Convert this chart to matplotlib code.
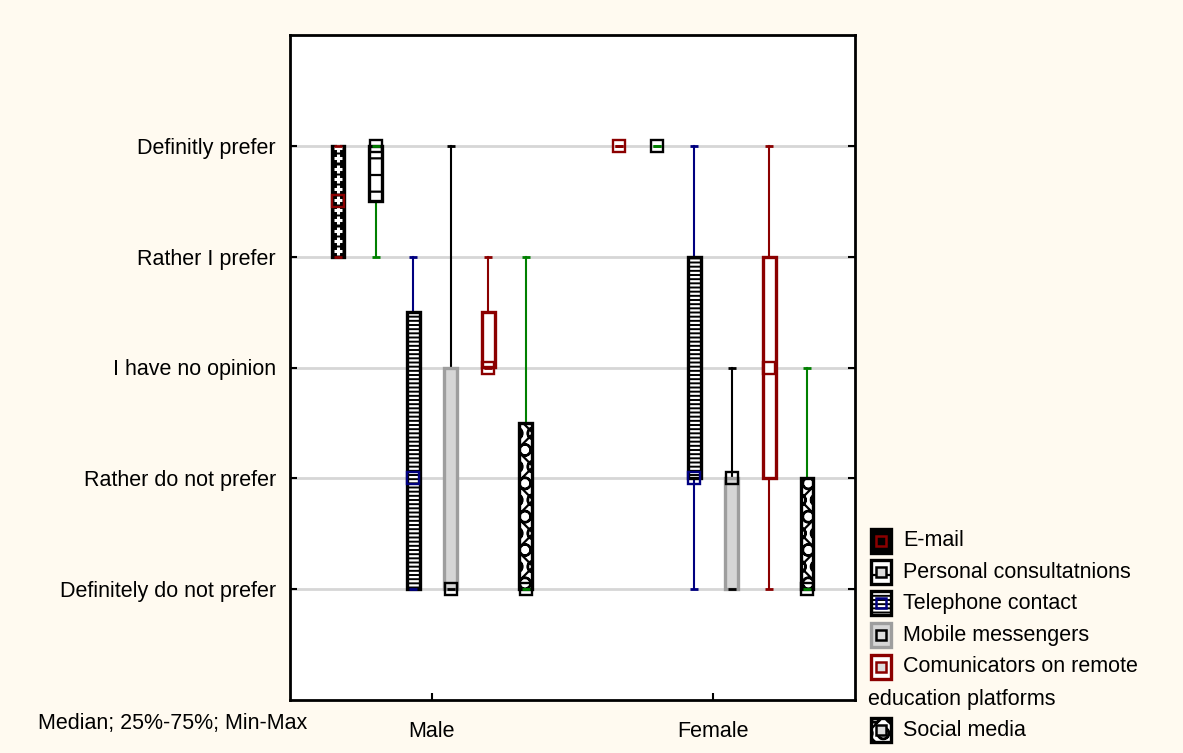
import numpy as np
import matplotlib
matplotlib.use("Agg")
import matplotlib.pyplot as plt
from matplotlib.patches import Rectangle

plt.rcParams["font.family"] = ["Liberation Sans", "DejaVu Sans"]
plt.rcParams["hatch.linewidth"] = 1.6

BG = "#FFFAF0"
FS = 15.5

# ── data ─────────────────────────────────────────────────────────────────────
groups = ["Male", "Female"]
series = ["E-mail", "Personal consultatnions", "Telephone contact",
          "Mobile messengers", "Comunicators on remote\neducation platforms",
          "Social media"]
y_labels = ["Definitely do not prefer", "Rather do not prefer",
            "I have no opinion", "Rather I prefer", "Definitly prefer"]

male_min = [4, 4, 1, 1, 3, 1]
male_q1 = [4, 4.5, 1, 1, 3, 1]
male_med = [4.5, 5, 2, 1, 3, 1]
male_q3 = [5, 5, 3.5, 3, 3.5, 2.5]
male_max = [5, 5, 4, 5, 4, 4]

female_min = [5, 5, 1, 1, 1, 1]
female_q1 = [5, 5, 2, 1, 2, 1]
female_med = [5, 5, 2, 2, 3, 1]
female_q3 = [5, 5, 4, 2, 4, 2]
female_max = [5, 5, 5, 3, 5, 3]

# ── styles per series ────────────────────────────────────────────────────────
STYLES = [
    dict(face="black", edge="black", hatch=None, plus=True, whisk="#8B0000", med="#8B0000"),
    dict(face="white", edge="black", hatch="-", plus=False, whisk="#008000", med="black"),
    dict(face="black", edge="black", hatch="----", plus=False, whisk="#000080", med="#000080"),
    dict(face="#D6D6D6", edge="#9E9E9E", hatch=None, plus=False, whisk="black", med="black"),
    dict(face="white", edge="#8B0000", hatch=None, plus=False, whisk="#8B0000", med="#8B0000"),
    dict(face="white", edge="black", hatch="xO", plus=False, whisk="#008000", med="black"),
]

BOX_W = 0.045
CAP_W = 0.028
STEP = 0.1335


def draw_box(ax, x, mn, q1, med, q3, mx, st):
    # whiskers + caps
    ax.plot([x, x], [q3, mx], color=st["whisk"], lw=1.5, zorder=2)
    ax.plot([x, x], [mn, q1], color=st["whisk"], lw=1.5, zorder=2)
    for v in (mn, mx):
        ax.plot([x - CAP_W / 2, x + CAP_W / 2], [v, v], color=st["whisk"],
                lw=2, zorder=5, solid_capstyle="butt")
    if q3 > q1:
        if st["hatch"] and st["face"] == "black":
            ax.add_patch(Rectangle((x - BOX_W / 2, q1), BOX_W, q3 - q1,
                                   facecolor="black", edgecolor="white",
                                   hatch=st["hatch"], lw=0, zorder=3))
        else:
            ax.add_patch(Rectangle((x - BOX_W / 2, q1), BOX_W, q3 - q1,
                                   facecolor=st["face"], edgecolor="black",
                                   hatch=st["hatch"], lw=0, zorder=3))
        ax.add_patch(Rectangle((x - BOX_W / 2, q1), BOX_W, q3 - q1,
                               fill=False, edgecolor=st["edge"], lw=2.4, zorder=4))
        if st["plus"]:
            ys = np.arange(q1 + 0.05, q3, 0.093)
            ax.plot(np.full(len(ys), x), ys, ls="none", marker="+", ms=5.5,
                    mec="white", mew=2.2, zorder=4)
    ax.plot([x], [med], ls="none", marker="s", ms=8.5, mfc="none",
            mec=st["med"], mew=1.7, zorder=6)


fig = plt.figure(figsize=(11.83, 7.53), dpi=100, facecolor=BG)
ax = fig.add_axes([290 / 1183, 1 - 700 / 753, 565 / 1183, 665 / 753])
ax.set_facecolor("white")

stats = [
    (male_min, male_q1, male_med, male_q3, male_max),
    (female_min, female_q1, female_med, female_q3, female_max),
]
for g, (mn, q1, md, q3, mx) in enumerate(stats):
    for i, st in enumerate(STYLES):
        x = g + (i - 2.5) * STEP
        draw_box(ax, x, mn[i], q1[i], md[i], q3[i], mx[i], st)

ax.set_xlim(-0.505, 1.505)
ax.set_ylim(0, 6)
ax.set_yticks(range(1, 6))
ax.set_yticklabels(y_labels, fontsize=FS)
ax.set_xticks(range(len(groups)))
ax.set_xticklabels(groups, fontsize=FS)
ax.tick_params(axis="y", direction="in", length=5, width=1.5, pad=10,
               right=True)
ax.tick_params(axis="x", direction="in", length=5, width=1.5, pad=15)
for s in ax.spines.values():
    s.set_linewidth(2)
ax.grid(axis="y", color="#D6D6D6", lw=2)
ax.set_axisbelow(True)

fig.text(38 / 1183, 1 - 724 / 753, "Median; 25%-75%; Min-Max", fontsize=FS,
         va="center", ha="left")

# ── legend (drawn manually in pixel coords) ─────────────────────────────────
lg = fig.add_axes([0, 0, 1, 1], facecolor="none")
lg.set_xlim(0, 1183)
lg.set_ylim(753, 0)
lg.axis("off")
rows_y = [541, 572, 603, 635, 667, 730]
for st, name, yc in zip(STYLES, series, rows_y):
    px, w, h = 871, 20, 24
    if st["hatch"] == "----":
        lg.add_patch(Rectangle((px, yc - h / 2), w, h, facecolor="black",
                               edgecolor="white", hatch=st["hatch"], lw=0))
    else:
        lg.add_patch(Rectangle((px, yc - h / 2), w, h, facecolor=st["face"],
                               edgecolor="black", hatch=st["hatch"], lw=0))
    lg.add_patch(Rectangle((px, yc - h / 2), w, h, fill=False,
                           edgecolor=st["edge"], lw=2.4))
    lg.plot([px + w / 2], [yc], ls="none", marker="s", ms=7, mfc="#DDDDDD"
            if st["face"] != "black" else "none", mec=st["med"], mew=1.8)
    if "\n" in name:
        first, second = name.split("\n")
        lg.text(903, yc, first, fontsize=FS, va="center", ha="left")
        lg.text(868, yc + 33, second, fontsize=FS, va="center", ha="left")
    else:
        lg.text(903, yc, name, fontsize=FS, va="center", ha="left")

fig.savefig("out.png", dpi=100, facecolor=BG)
